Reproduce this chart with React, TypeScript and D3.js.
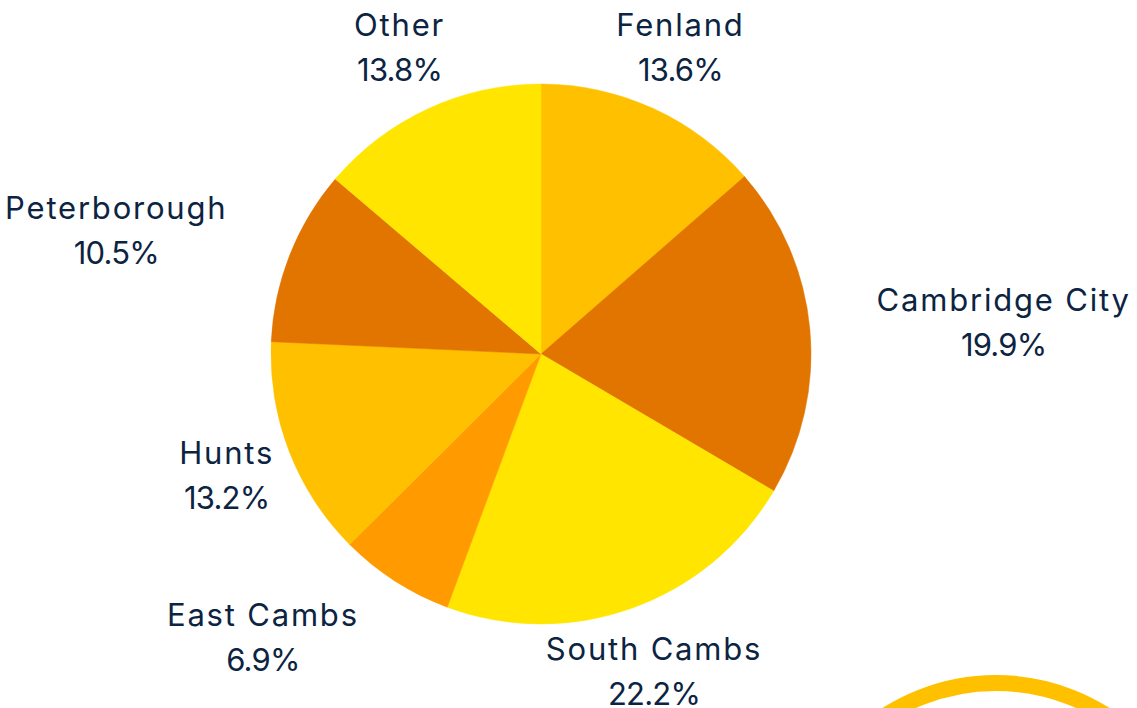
import React, { useEffect, useRef } from "react";
import * as d3 from "d3";

const categories = ["Fenland", "Cambridge City", "South Cambs", "East Cambs", "Hunts", "Peterborough", "Other"];
const values = [13.6, 19.9, 22.2, 6.9, 13.2, 10.5, 13.8];
const labels = ["13.6%", "19.9%", "22.2%", "6.9%", "13.2%", "10.5%", "13.8%"];
const colors = ["#FFC000", "#E17500", "#FFE500", "#FF9A00", "#FFC000", "#E17500", "#FFE500"];

const W = 1137;
const H = 708;
const CX = 541;
const CY = 354;
const R = 270;
const LABEL_R = 337;
const FONT = 31;
const LINE_H = 45;
const TEXT_COLOR = "#0C2442";

export default function App() {
  const ref = useRef<SVGSVGElement | null>(null);

  useEffect(() => {
    document.body.style.margin = "0";
    const svg = d3.select(ref.current);
    svg.selectAll("*").remove();

    const data = categories.map((c, i) => ({ name: c, value: values[i], label: labels[i], color: colors[i] }));
    const pie = d3.pie<any>().sort(null).value((d: any) => d.value);
    const arcs = pie(data);
    const arcGen = d3.arc<any>().innerRadius(0).outerRadius(R);

    // decorative ring bottom right
    svg.append("circle")
      .attr("cx", 996).attr("cy", 887).attr("r", 204)
      .attr("fill", "none").attr("stroke", "#FFC000").attr("stroke-width", 16);

    const g = svg.append("g").attr("transform", `translate(${CX},${CY})`);
    g.selectAll("path.slice")
      .data(arcs)
      .join("path")
      .attr("class", "slice")
      .attr("d", arcGen as any)
      .attr("fill", (d: any) => d.data.color)
      .attr("stroke", (d: any) => d.data.color)
      .attr("stroke-width", 0.5);

    const lg = g.append("g")
      .attr("font-family", "Inter, 'Open Sans', sans-serif")
      .attr("font-size", FONT)
      .attr("fill", TEXT_COLOR);

    arcs.forEach((a: any) => {
      const mid = (a.startAngle + a.endAngle) / 2;
      const ax = LABEL_R * Math.sin(mid);
      const ay = -LABEL_R * Math.cos(mid);
      const t = lg.append("text").attr("text-anchor", "middle");
      const t1 = t.append("tspan").attr("x", ax).attr("y", ay - LINE_H / 2).attr("dy", "0.35em")
        .attr("letter-spacing", "1.8px").text(a.data.name);
      const t2 = t.append("tspan").attr("x", ax).attr("y", ay + LINE_H / 2).attr("dy", "0.35em")
        .attr("letter-spacing", "-0.8px").text(a.data.label);
      const w = Math.max(
        (t1.node() as SVGTextContentElement).getComputedTextLength(),
        (t2.node() as SVGTextContentElement).getComputedTextLength()
      );
      const intrusion = (w / 2) * Math.abs(Math.sin(mid));
      if (intrusion > 47) {
        const bx = ax + Math.sign(Math.sin(mid)) * (w / 2);
        t1.attr("x", bx);
        t2.attr("x", bx);
      }
    });
  }, []);

  return (
    <svg ref={ref} width={W} height={H} style={{ position: "absolute", left: 0, top: 0, display: "block" }} />
  );
}
